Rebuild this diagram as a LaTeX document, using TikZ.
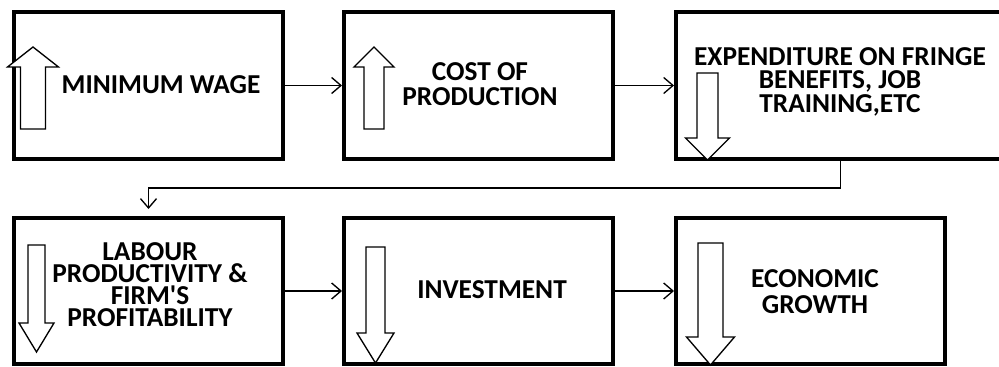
\documentclass[tikz,border=0pt]{standalone}
\usepackage{fontspec}
\setmainfont{Carlito}
\usetikzlibrary{arrows.meta,positioning}
\tikzset{
  stagebox/.style={
    rectangle,
    draw=black,
    line width=3pt,
    minimum width=201.75pt,
    minimum height=110pt
  },
  stagetext/.style={
    align=center,
    font=\fontsize{20.5}{#1}\selectfont\bfseries,
    inner sep=0pt
  },
  stagetext/.default=17.5pt,
  link/.style={-{Straight Barb[length=7pt,width=12pt]},line width=1pt},
  hollow/.style={draw=black,fill=white,line width=1pt,line join=miter}
}
% hollow block arrow: centre x, tail y, head base y, tip y, shaft and head half widths
\newcommand\blockarrow[6]{%
  \draw[hollow] (#1-#5,#2) -- (#1-#5,#3) -- (#1-#6,#3) -- (#1,#4)
    -- (#1+#6,#3) -- (#1+#5,#3) -- (#1+#5,#2) -- cycle;}

\begin{document}
\begin{tikzpicture}[x=0.75pt,y=-0.75pt]
  \useasboundingbox[fill=white] (0,0) rectangle (999,367);
  \clip (0,0) rectangle (999,367);

  % top row (the third box runs on past the right edge)
  \node[stagebox] (wage) at (148.5,85.5) {};
  \node[stagebox] (cost) at (478.5,85.5) {};
  \node[stagebox, minimum width=400pt] (fringe) at (942.7,85.5) {};
  % bottom row
  \node[stagebox] (labour) at (148.5,291) {};
  \node[stagebox] (invest) at (478.5,291) {};
  \node[stagebox] (growth) at (810.5,291) {};

  \node[stagetext] (wagetxt) at (161,85) {MINIMUM WAGE};
  \node[stagetext=18.75pt] (costtxt) at (480,84.5) {COST OF\\PRODUCTION};
  \node[stagetext=17.6pt] (fringetxt) at (840,81.5) {EXPENDITURE ON FRINGE\\BENEFITS, JOB\\TRAINING,ETC};
  \node[stagetext=16.5pt] (labourtxt) at (150,284.5) {LABOUR\\PRODUCTIVITY \&\\FIRM\textquotesingle S\\PROFITABILITY};
  \node[stagetext] (investtxt) at (492,290) {INVESTMENT};
  \node[stagetext=20pt] (growthtxt) at (815,291.5) {ECONOMIC\\GROWTH};

  % up / down markers
  \blockarrow{33}{129}{67}{47}{12.5}{25.5}
  \blockarrow{374}{129}{67}{47}{10}{20}
  \blockarrow{707.5}{73}{138}{160}{10.5}{22}
  \blockarrow{36.5}{245}{323}{352}{8.5}{17.5}
  \blockarrow{375.5}{247}{333}{363}{9.5}{18.5}
  \blockarrow{710.5}{243}{337}{365}{12.5}{24}

  \coordinate (turn) at (148.5,188);
  \draw[link] (wage) -- (cost);
  \draw[link] (cost) -- (fringe);
  \draw[link, shorten >=5pt] ([xshift=125pt]fringe.south west) |- (turn) -- (labour.north);
  \draw[link] (labour) -- (invest);
  \draw[link] (invest) -- (growth);
\end{tikzpicture}
\end{document}
